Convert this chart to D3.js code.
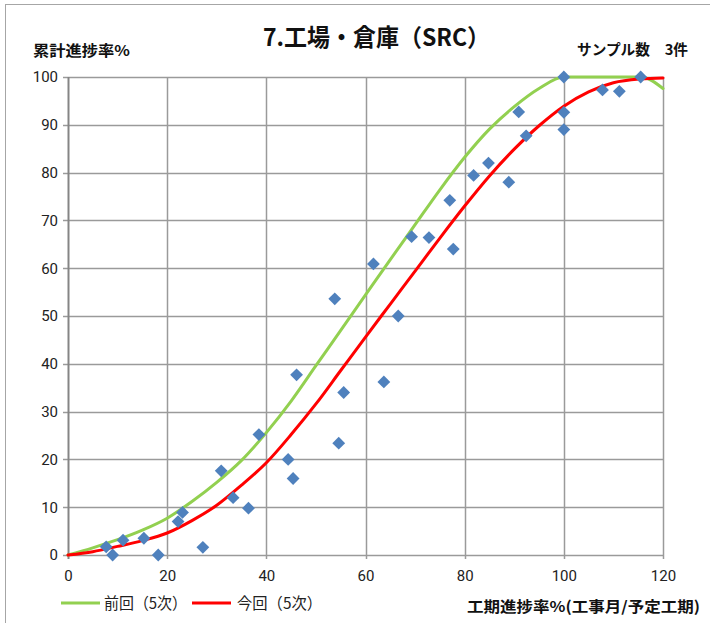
<!DOCTYPE html>
<html>
<head>
<meta charset="utf-8">
<script src="https://cdn.jsdelivr.net/npm/d3@7"></script>
<style>
  html, body { margin: 0; padding: 0; background: #fff; }
  svg { display: block; font-family: "Noto Sans CJK JP", "Noto Sans", sans-serif; }
  .num { font-family: "Liberation Sans Narrow", "Roboto", "Noto Sans", sans-serif; font-size: 15px; fill: #222; }
</style>
</head>
<body>
<div id="chart"></div>
<script>
// Sample points (工期進捗率, 累計進捗率)
const sampleX = [7.7, 9.0, 11.1, 15.3, 18.2, 22.2, 23.1, 27.2, 30.9, 33.3, 36.4, 38.5, 44.4, 45.4, 46.1,
                 53.8, 54.6, 55.6, 61.6, 63.7, 66.6, 69.3, 72.8, 77.0, 77.7, 81.8, 84.8, 88.9, 90.9, 92.4,
                 100, 100, 100, 107.8, 111.2, 115.5];
const sampleY = [1.7, 0.0, 3.1, 3.5, 0.0, 7.0, 8.9, 1.6, 17.6, 12.0, 9.8, 25.2, 20.0, 16.0, 37.7,
                 53.6, 23.4, 34.0, 60.9, 36.2, 50.0, 66.6, 66.4, 74.2, 64.0, 79.4, 82.0, 78.0, 92.7, 87.7,
                 100, 92.6, 89.0, 97.3, 97.0, 100];

// Fitted curves
const curveX = [0, 5, 10, 15, 20, 25, 30, 35, 40, 45, 50, 55, 60, 65, 70, 75, 80, 85, 90, 95, 100, 105, 110, 115.5, 120];
const prevY  = [0, 1.5, 3.2, 5.2, 7.7, 11.2, 15.2, 19.8, 25.6, 32.2, 39.6, 47.0, 54.4, 61.8, 69.1, 76.4, 83.2, 89.1, 93.8, 97.6, 100, 100, 100, 100, 97.6];
const currY  = [0, 0.7, 1.8, 3.0, 4.6, 7.2, 10.4, 14.6, 19.3, 25.2, 31.6, 38.6, 45.6, 52.5, 59.4, 66.3, 73.0, 79.3, 84.9, 89.8, 93.9, 96.9, 98.8, 99.6, 99.8];

const xTicks = [0, 20, 40, 60, 80, 100, 120];
const yTicks = [0, 10, 20, 30, 40, 50, 60, 70, 80, 90, 100];

const W = 710, H = 623;
const m = { left: 68, right: 47, top: 77, bottom: 68 };

const svg = d3.select('#chart').append('svg').attr('width', W).attr('height', H);

// outer frame
svg.append('rect')
  .attr('x', 5.5).attr('y', 4.5).attr('width', W).attr('height', H)
  .attr('fill', 'none').attr('stroke', '#a6a6a6').attr('stroke-width', 1);

const x = d3.scaleLinear().domain([0, 120]).range([m.left, W - m.right]);
const y = d3.scaleLinear().domain([0, 100]).range([H - m.bottom, m.top]);

// ── Grid ────────────────────────────────────────────────────────────────
const grid = svg.append('g');
grid.selectAll('.hg').data(yTicks).join('line')
  .attr('x1', x(0) - 5).attr('x2', x(120))
  .attr('y1', d => Math.round(y(d)) + 0.5).attr('y2', d => Math.round(y(d)) + 0.5)
  .attr('stroke', '#9a9a9a').attr('stroke-width', 1.5);
grid.selectAll('.vg').data(xTicks.slice(1)).join('line')
  .attr('x1', d => Math.round(x(d)) + 0.5).attr('x2', d => Math.round(x(d)) + 0.5)
  .attr('y1', y(100)).attr('y2', y(0) + 4)
  .attr('stroke', '#9a9a9a').attr('stroke-width', 1.5);
// left axis
svg.append('line')
  .attr('x1', x(0) + 0.5).attr('x2', x(0) + 0.5)
  .attr('y1', y(100)).attr('y2', y(0) + 4)
  .attr('stroke', '#858585').attr('stroke-width', 2);

// ── Axes labels ─────────────────────────────────────────────────────────
const yAxis = svg.append('g')
  .attr('transform', `translate(${x(0) - 4},0)`)
  .call(d3.axisLeft(y).tickValues(yTicks).tickSize(0).tickPadding(6));
yAxis.select('.domain').remove();
yAxis.selectAll('text').attr('class', 'num').attr('font-family', null).attr('font-size', null);

const xAxis = svg.append('g')
  .attr('transform', `translate(0,${y(0) + 8})`)
  .call(d3.axisBottom(x).tickValues(xTicks).tickSize(0).tickPadding(7));
xAxis.select('.domain').remove();
xAxis.selectAll('text').attr('class', 'num').attr('font-family', null).attr('font-size', null);

// ── Curves ──────────────────────────────────────────────────────────────
const line = d3.line().x(d => x(d[0])).y(d => y(d[1])).curve(d3.curveMonotoneX);
svg.append('path')
  .datum(curveX.map((v, i) => [v, prevY[i]]))
  .attr('d', line).attr('fill', 'none')
  .attr('stroke', '#92D050').attr('stroke-width', 3).attr('stroke-linecap', 'round');
svg.append('path')
  .datum(curveX.map((v, i) => [v, currY[i]]))
  .attr('d', line).attr('fill', 'none')
  .attr('stroke', '#FF0000').attr('stroke-width', 3).attr('stroke-linecap', 'round');

// ── Sample diamonds ─────────────────────────────────────────────────────
const diamond = d3.symbol().type(d3.symbolSquare).size(82);
svg.append('g').selectAll('path')
  .data(sampleX.map((v, i) => [v, sampleY[i]]))
  .join('path')
  .attr('d', diamond)
  .attr('transform', d => `translate(${x(d[0])},${y(d[1])}) rotate(45)`)
  .attr('fill', '#4F81BD');

// ── Texts (squeezed to the reference widths) ────────────────────────────
function label(tx, ty, str, size, len, bold) {
  return svg.append('text')
    .attr('x', tx).attr('y', ty)
    .attr('font-size', size).attr('font-weight', bold ? 'bold' : 'normal')
    .attr('fill', bold ? '#111' : '#222')
    .attr('textLength', len).attr('lengthAdjust', 'spacingAndGlyphs')
    .text(str);
}
label(263, 46, '7.工場・倉庫（SRC）', 24, 227, true);
label(33, 56, '累計進捗率%', 15, 97, true);
label(577, 55, 'サンプル数　3件', 14.5, 111, true);
label(467, 612, '工期進捗率%(工事月/予定工期)', 15, 233, true);

// legend
const legend = [['前回（5次）', '#92D050', 61, 104, 83], ['今回（5次）', '#FF0000', 192, 237, 85]];
legend.forEach(([str, color, lx, tx, len]) => {
  svg.append('line')
    .attr('x1', lx).attr('x2', lx + 39).attr('y1', 603).attr('y2', 603)
    .attr('stroke', color).attr('stroke-width', 3);
  label(tx, 609, str, 16, len, false);
});
</script>
</body>
</html>
